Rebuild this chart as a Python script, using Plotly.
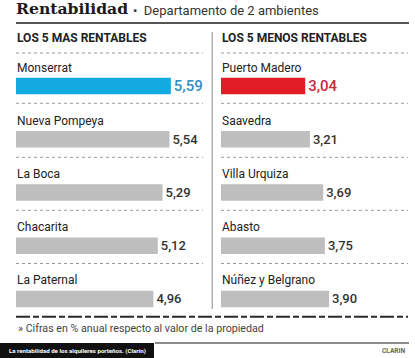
import plotly.graph_objects as go

W, H = 415, 358

# ---- data ----
left_title = "LOS 5 MAS RENTABLES"
right_title = "LOS 5 MENOS RENTABLES"
left_names = ["Monserrat", "Nueva Pompeya", "La Boca", "Chacarita", "La Paternal"]
left_values = [5.59, 5.54, 5.29, 5.12, 4.96]
right_names = ["Puerto Madero", "Saavedra", "Villa Urquiza", "Abasto", "Núñez y Belgrano"]
right_values = [3.04, 3.21, 3.69, 3.75, 3.90]

def px(x):
    return x / W

def py(y):
    return 1 - y / H

GRAY = "#bebebe"
BLUE = "#13a9e1"
RED = "#e31d26"

left_colors = [BLUE] + [GRAY] * 4
right_colors = [RED] + [GRAY] * 4
left_tcolors = ["#2f8fc4"] + ["#333333"] * 4
right_tcolors = ["#c9283b"] + ["#333333"] * 4
tsizes = [15] + [13] * 4

fig = go.Figure()
fig.add_trace(go.Bar(
    x=left_values, y=left_names, orientation="h", xaxis="x", yaxis="y",
    marker=dict(color=left_colors, line=dict(width=0)), width=0.31,
    texttemplate="%{x:.2f}", textposition="outside", constraintext="none",
    textfont=dict(color=left_tcolors, size=tsizes, family="Roboto", weight=500),
    cliponaxis=False, hoverinfo="skip"))
fig.add_trace(go.Bar(
    x=right_values, y=right_names, orientation="h", xaxis="x2", yaxis="y2",
    marker=dict(color=right_colors, line=dict(width=0)), width=0.31,
    texttemplate="%{x:.2f}", textposition="outside", constraintext="none",
    textfont=dict(color=right_tcolors, size=tsizes, family="Roboto", weight=500),
    cliponaxis=False, hoverinfo="skip"))

xr = [0, 189 / 27.7]
ydom = [py(325.6), py(59.4)]
common_x = dict(range=xr, showgrid=False, zeroline=False, showticklabels=False, fixedrange=True)
common_y = dict(type="category", range=[4.5, -0.5], domain=ydom, showgrid=False,
                zeroline=False, showticklabels=False, fixedrange=True)

ann = []
for names, xa, ya in [(left_names, "x", "y"), (right_names, "x2", "y2")]:
    for n in names:
        ann.append(dict(x=0, y=n, xref=xa, yref=ya, text=n, showarrow=False,
                        xanchor="left", yanchor="middle", yshift=18.5, xshift=-1,
                        font=dict(family="Roboto", size=12, color="#222222")))

def txt(x, y, text, size, family="Roboto", color="#222", weight=400, xanchor="left"):
    ann.append(dict(x=px(x), y=py(y), xref="paper", yref="paper", text=text, showarrow=False,
                    xanchor=xanchor, yanchor="middle",
                    font=dict(family=family, size=size, color=color, weight=weight)))

txt(14, 8.5, "Rentabilidad", 15.6, family="DejaVu Serif", color="#1a1a1a", weight=700)
txt(131, 10, "•  Departamento de 2 ambientes", 13, color="#333333")
txt(15, 37.5, left_title, 12, color="#222222", weight=700)
txt(220, 37.5, right_title, 12, color="#222222", weight=700)
txt(16, 328, "» Cifras en % anual respecto al valor de la propiedad", 10.7, color="#444444")
txt(7, 350.5, "<b>La rentabilidad de los alquileres porteños. (Clarín)</b>", 6.1, color="#ffffff")
txt(408, 350.5, "<b>CLARIN</b>", 6.6, color="#666666", xanchor="right")

shapes = []
def line(x0, y0, x1, y1, color, width, dash="solid"):
    shapes.append(dict(type="line", xref="paper", yref="paper", x0=px(x0), y0=py(y0),
                       x1=px(x1), y1=py(y1), line=dict(color=color, width=width, dash=dash)))

line(16, 23, 409, 23, "#555555", 2)
line(212.3, 32, 212.3, 309, "#b0b0b0", 1.5)
for yy in [53, 103.3, 157.3, 210.3, 263.5]:
    line(16, yy, 203, yy, "#9a9a9a", 1, "dot")
    line(221, yy, 408, yy, "#9a9a9a", 1, "dot")
line(16, 316.7, 408, 316.7, "#2a2a2a", 2, "14px,3px,6px,3px")
line(155, 343, 409, 343, "#666666", 1.5)
shapes.append(dict(type="rect", xref="paper", yref="paper", x0=0, x1=px(154),
                   y0=0, y1=py(343), fillcolor="#111111", line=dict(width=0), layer="below"))

fig.update_layout(
    width=W, height=H, margin=dict(l=0, r=0, t=0, b=0),
    paper_bgcolor="white", plot_bgcolor="white", showlegend=False,
    separators=",.",
    xaxis=dict(domain=[px(16), px(205)], anchor="y", **common_x),
    xaxis2=dict(domain=[px(221), px(410)], anchor="y2", **common_x),
    yaxis=dict(anchor="x", **common_y),
    yaxis2=dict(anchor="x2", **common_y),
    annotations=ann, shapes=shapes,
    font=dict(family="Roboto"),
)

fig.write_html("out.html", config={"displayModeBar": False},
               post_script="document.body.style.margin='0';document.body.style.overflow='hidden';")
